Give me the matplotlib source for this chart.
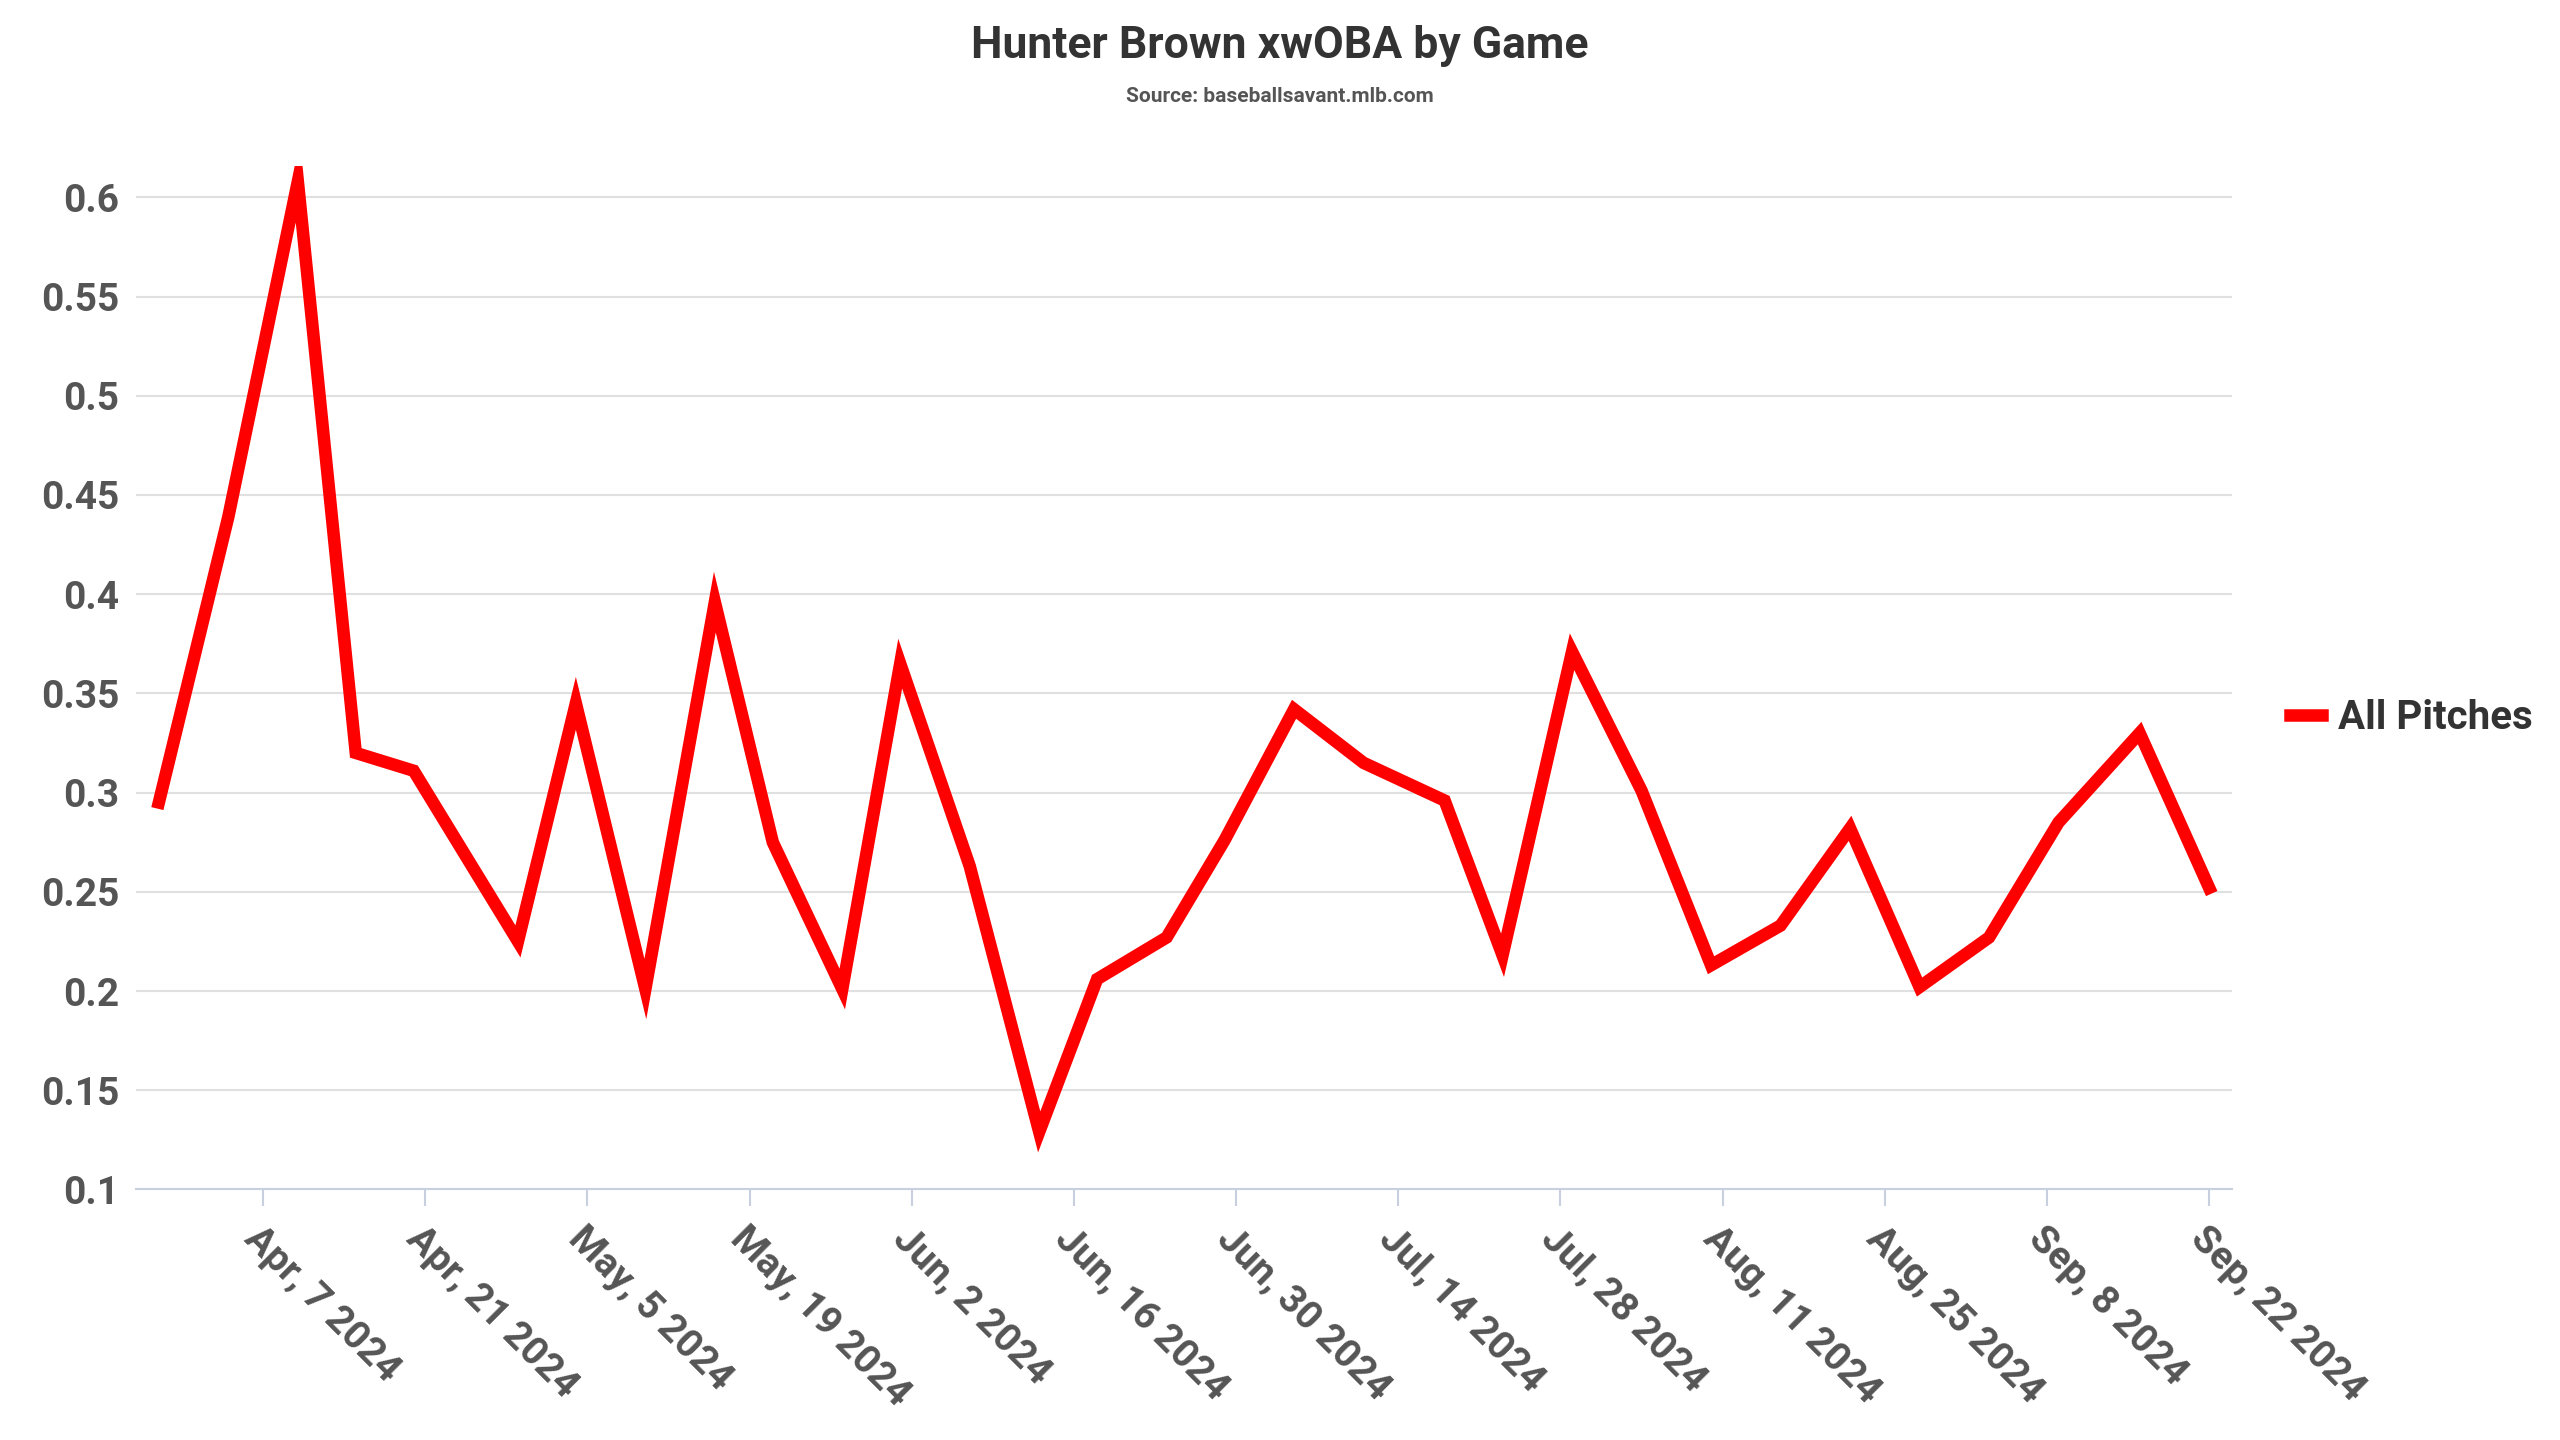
import matplotlib
matplotlib.use("Agg")
import matplotlib.pyplot as plt
import pandas as pd

dates = ["2024-03-29","2024-04-04","2024-04-10","2024-04-15","2024-04-20","2024-04-29",
         "2024-05-04","2024-05-10","2024-05-16","2024-05-21","2024-05-27","2024-06-01",
         "2024-06-07","2024-06-13","2024-06-18","2024-06-24","2024-06-29","2024-07-05",
         "2024-07-11","2024-07-18","2024-07-23","2024-07-29","2024-08-04","2024-08-10",
         "2024-08-16","2024-08-22","2024-08-28","2024-09-03","2024-09-09","2024-09-16",
         "2024-09-22"]
xwoba = [0.295,0.439,0.608,0.320,0.311,0.225,0.345,0.201,0.396,0.275,0.201,0.365,
         0.263,0.129,0.206,0.227,0.276,0.342,0.315,0.296,0.218,0.371,0.301,0.213,
         0.233,0.282,0.202,0.227,0.285,0.330,0.252]
tick_dates = pd.date_range("2024-04-07", "2024-09-22", freq="14D")

plt.rcParams['font.family'] = ['Roboto', 'DejaVu Sans']
gray = "#555555"
fig = plt.figure(figsize=(25.6, 14.4), dpi=100)
ax = fig.add_axes([0.053, 0.174, 0.819, 0.711])
x = pd.to_datetime(dates)
ax.plot(x, xwoba, color="#ff0000", lw=9, label="All Pitches", solid_joinstyle="miter")
ax.set_ylim(0.1, 0.616)
ax.set_xlim(pd.Timestamp("2024-03-27"), pd.Timestamp("2024-09-24"))
ax.set_yticks([0.1,0.15,0.2,0.25,0.3,0.35,0.4,0.45,0.5,0.55,0.6])
ax.set_yticklabels(["0.1","0.15","0.2","0.25","0.3","0.35","0.4","0.45","0.5","0.55","0.6"])
ax.grid(axis="y", color="#e0e0e0", lw=1.5)
ax.set_axisbelow(True)
ax.set_xticks(tick_dates)
ax.set_xticklabels([f"{d.strftime('%b')}, {d.day} 2024" for d in tick_dates],
                   rotation=-45, ha="left", rotation_mode="anchor")
for s in ["top","right","left"]:
    ax.spines[s].set_visible(False)
ax.spines["bottom"].set_color("#c8d0e0")
ax.spines["bottom"].set_linewidth(1.5)
ax.tick_params(axis="y", length=0, labelsize=28, labelcolor=gray, pad=12)
ax.tick_params(axis="x", length=12, color="#c8d0e0", width=1.5, labelsize=28, labelcolor=gray, pad=10)
for lab in ax.get_xticklabels() + ax.get_yticklabels():
    lab.set_fontweight("bold")
fig.text(0.5, 0.968, "Hunter Brown xwOBA by Game", ha="center", va="center",
         fontsize=32, fontweight="bold", color="#333333")
fig.text(0.5, 0.933, "Source: baseballsavant.mlb.com", ha="center", va="center",
         fontsize=15, fontweight="bold", color=gray)
leg = ax.legend(loc="center left", bbox_to_anchor=(1.01, 0.46), frameon=False,
                fontsize=29, handlelength=0.8, handletextpad=0.4)
for t in leg.get_texts():
    t.set_fontweight("bold"); t.set_color("#333333")
fig.savefig("out.png", dpi=100)
